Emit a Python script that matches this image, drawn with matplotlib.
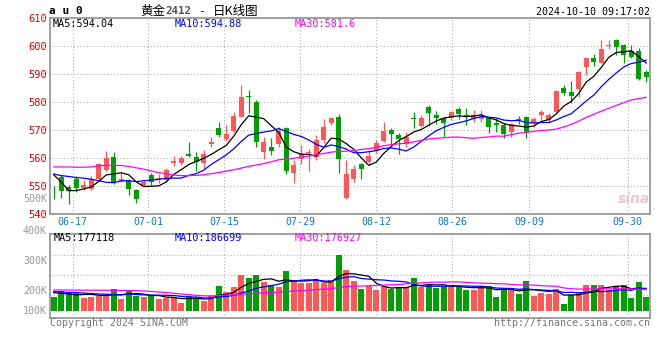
import matplotlib
matplotlib.use("Agg")
import matplotlib.pyplot as plt
import pandas as pd

plt.rcParams["font.family"] = ["DejaVu Sans Mono"]

# ---------------- data (au0 daily, 80 sessions, last = 10-10) ----------------
opens = [548.6, 553.1, 549.8, 552.4, 549.4, 548.8, 552.4, 555.8, 560.4, 551.8,
         552.2, 548.6, 550.4, 553.8, 552.6, 552.2, 558.2, 558.3, 561.3, 560.4,
         558.1, 564.9, 570.6, 566.7, 569.8, 574.8, 582.1, 579.9, 562.3, 564.0,
         565.0, 570.8, 554.8, 559.5, 561.9, 560.5, 566.4, 572.4, 574.8, 545.8,
         552.4, 557.9, 558.7, 562.6, 566.2, 570.0, 568.2, 565.0, 574.4, 571.5,
         578.3, 575.4, 574.2, 574.2, 577.5, 575.5, 573.8, 573.8, 574.4, 572.4,
         571.8, 569.2, 573.9, 574.5, 572.4, 575.4, 573.6, 576.5, 585.1, 583.7,
         584.5, 592.6, 595.6, 594.0, 600.0, 602.1, 600.4, 598.3, 598.3, 590.8]
closes = [548.4, 548.3, 548.3, 549.2, 550.4, 552.4, 557.8, 560.0, 551.0, 552.4,
          548.8, 545.3, 551.6, 551.5, 553.0, 555.8, 558.8, 560.1, 560.7, 558.5,
          561.4, 565.8, 568.2, 568.6, 575.0, 581.9, 581.7, 565.8, 565.8, 562.6,
          569.8, 555.5, 557.5, 561.4, 562.3, 566.4, 571.2, 574.2, 559.6, 554.3,
          556.1, 556.1, 560.7, 565.5, 569.8, 568.5, 566.8, 567.6, 573.8, 574.2,
          576.2, 574.4, 572.6, 576.3, 575.7, 575.0, 575.4, 574.8, 571.0, 571.8,
          568.5, 572.1, 573.6, 569.2, 573.8, 576.5, 575.4, 583.9, 583.1, 582.1,
          590.8, 595.6, 594.2, 598.9, 600.2, 599.5, 596.8, 596.2, 588.1, 589.0]
highs = [550.0, 554.0, 550.4, 553.6, 552.2, 553.4, 558.2, 562.4, 562.0, 554.6,
         552.6, 548.8, 552.2, 554.8, 554.2, 556.4, 560.6, 560.6, 565.7, 562.3,
         562.9, 567.4, 573.0, 571.8, 576.5, 586.1, 584.3, 580.7, 567.4, 567.0,
         571.2, 571.2, 559.3, 564.6, 563.1, 568.2, 573.8, 574.8, 575.7, 559.3,
         557.5, 558.3, 562.6, 566.4, 573.0, 570.8, 569.0, 569.4, 576.5, 575.4,
         578.9, 576.9, 574.8, 576.9, 578.3, 577.7, 577.1, 577.1, 574.8, 574.2,
         572.4, 572.4, 575.0, 575.0, 574.5, 577.1, 576.0, 584.3, 586.1, 587.6,
         591.2, 596.2, 597.1, 602.1, 602.1, 602.4, 600.6, 600.4, 599.2, 591.4]
lows = [545.5, 545.8, 543.5, 548.0, 548.6, 548.6, 552.2, 555.5, 550.7, 551.6,
        546.7, 544.0, 550.0, 550.2, 551.2, 551.8, 557.2, 557.4, 560.2, 555.5,
        556.3, 564.0, 567.4, 566.2, 569.4, 574.5, 576.0, 564.0, 559.6, 561.1,
        564.0, 554.3, 551.2, 557.9, 555.5, 559.3, 565.5, 571.8, 554.8, 545.2,
        551.5, 552.4, 557.9, 561.7, 565.8, 565.0, 561.4, 564.0, 570.6, 571.2,
        571.4, 572.1, 567.6, 573.6, 573.8, 571.8, 573.0, 573.0, 569.0, 569.4,
        567.0, 567.6, 572.0, 567.0, 571.2, 573.6, 572.4, 576.2, 582.5, 579.5,
        581.9, 589.6, 592.9, 593.8, 598.8, 596.8, 593.8, 595.6, 587.9, 587.3]
# volume in thousands of lots
volumes = [149.0, 171.6, 165.6, 163.3, 147.6, 151.2, 153.7, 160.9, 178.8, 143.0,
           175.2, 153.7, 151.2, 153.7, 143.0, 147.6, 147.6, 129.7, 153.7, 147.6,
           136.9, 153.7, 189.5, 169.1, 184.8, 228.9, 219.2, 228.9, 204.9, 193.1,
           187.0, 244.3, 211.0, 199.1, 199.1, 211.0, 199.1, 211.0, 300.5, 246.8,
           207.4, 178.8, 189.5, 175.2, 189.5, 177.7, 187.0, 187.0, 218.1, 187.0,
           193.1, 181.3, 189.5, 193.1, 184.8, 175.2, 175.2, 189.5, 189.5, 151.2,
           183.6, 175.2, 160.9, 207.4, 154.9, 165.6, 160.9, 178.8, 125.1, 157.3,
           169.1, 193.1, 193.1, 193.1, 175.2, 189.5, 193.1, 147.6, 204.9, 151.2]

# moving averages before enough history is on screen
ma5_head = [554.0, 551.4, 548.3, 548.4]
ma10_head = [554.3, 553.7, 553.4, 553.0, 552.8, 552.4, 551.9, 551.3, 551.2]
ma30_head = [556.8, 556.8, 556.8, 556.7, 556.7, 556.8, 557.2, 557.4, 557.4, 557.3,
             557.0, 556.5, 556.0, 555.4, 554.8, 554.3, 553.9, 553.7, 553.7, 553.8,
             554.0, 554.4, 554.8, 555.3, 555.8, 556.4, 557.0, 557.5, 558.0]
vma5_head = [165.6, 163.3, 160.9, 157.3]
vma10_head = [169.2, 168.0, 166.8, 165.6, 164.0, 162.5, 161.0, 160.0, 159.0]
vma30_head = [175.2, 175.2, 175.0, 174.8, 174.6, 174.4, 174.2, 174.0, 173.8, 173.6,
              173.2, 172.6, 171.6, 170.0, 168.0, 166.0, 163.5, 161.0, 158.5, 156.0,
              154.2, 154.0, 155.0, 156.5, 158.0, 159.8, 161.7, 163.6, 165.2]

tick_labels = ["06-17", "07-01", "07-15", "07-29", "08-12", "08-26", "09-09", "09-30"]
tick_pos = [2.53, 12.61, 22.74, 32.83, 42.97, 53.14, 63.37, 76.53]
price_ticks = [540, 550, 560, 570, 580, 590, 600, 610]

RED = "#ff5656"
GREEN = "#00a000"


def moving(values, n, head):
    s = pd.Series(values).rolling(n).mean()
    s.iloc[:n - 1] = head
    return s


# ---------------- figure ----------------
W, H = 660, 360
fig = plt.figure(figsize=(6.6, 3.6), dpi=100)


def fx(x):
    return x / W


def fy(y):
    return 1 - y / H


ax = fig.add_axes([fx(50), fy(214), 600 / W, 196 / H])
axv = fig.add_axes([fx(50), fy(318), 600 / W, 84 / H])

x = list(range(len(closes)))

# candles
for i in x:
    o, c, h, l = opens[i], closes[i], highs[i], lows[i]
    col = RED if c >= o else GREEN
    ax.vlines(i, l, h, color=col, lw=0.9, zorder=3)
    ax.bar(i, max(abs(c - o), 0.3), bottom=min(o, c), width=0.68,
           color=col, lw=0, zorder=4)

ax.plot(x, moving(closes, 5, ma5_head), color="black", lw=0.9, zorder=5)
ax.plot(x, moving(closes, 10, ma10_head), color="#0000ff", lw=0.9, zorder=5)
ax.plot(x, moving(closes, 30, ma30_head), color="#ff00ff", lw=0.9, zorder=5)

# volume
vcols = [RED if closes[i] >= opens[i] else GREEN for i in x]
axv.bar(x, [v - 100 for v in volumes], bottom=100, width=0.76, color=vcols, lw=0, zorder=3)
axv.plot(x, moving(volumes, 5, vma5_head), color="black", lw=0.9, zorder=5)
axv.plot(x, moving(volumes, 10, vma10_head), color="#0000ff", lw=0.9, zorder=5)
axv.plot(x, moving(volumes, 30, vma30_head), color="#ff00ff", lw=0.9, zorder=5)

# axes styling
for a in (ax, axv):
    a.set_xlim(-0.5, 79.5)
    a.set_xticks(tick_pos)
    a.grid(True, color="#b0b0b0", linestyle=(0, (1, 2)), lw=0.8)
    a.set_axisbelow(True)
    for sp in a.spines.values():
        sp.set_color("#9a9a9a")
        sp.set_linewidth(1.3)
    a.tick_params(length=0)

ax.set_ylim(540, 610)
ax.set_yticks(price_ticks)
ax.set_yticklabels([str(t) for t in price_ticks], color="#e80000", fontsize=7.5)
ax.tick_params(axis="y", pad=2)
ax.set_xticklabels(tick_labels, color="#1177cc", fontsize=7.2)
ax.tick_params(axis="x", pad=2.5)

axv.set_ylim(74.9, 375.7)
axv.set_yticks([157.3, 228.9, 300.5])
axv.set_yticklabels([])
axv.set_xticklabels([])

# texts
fig.text(fx(49), fy(11), "a u 0", fontsize=8, weight="bold", va="center")
cjk = ["Noto Sans CJK SC", "DejaVu Sans"]
fig.text(fx(140), fy(11), "黄金", family=cjk, fontsize=9, va="center")
fig.text(fx(165), fy(11.5), "2412", color="#555555", fontsize=7.8,
         weight="bold", va="center")
fig.text(fx(201), fy(11), "-", fontsize=8, ha="center", va="center")
fig.text(fx(213), fy(11), "日K线图", family=cjk, fontsize=9, va="center")
fig.text(fx(650), fy(12), "2024-10-10 09:17:02", ha="right", fontsize=7.2, va="center")

fig.text(fx(53), fy(23.7), "MA5:594.04", color="black", fontsize=7.3, va="center")
fig.text(fx(175), fy(23.7), "MA10:594.88", color="#0000ff", fontsize=7.3, va="center")
fig.text(fx(295), fy(23.7), "MA30:581.6", color="#ff00ff", fontsize=7.3, va="center")
fig.text(fx(54), fy(238.3), "MA5:177118", color="black", fontsize=7.3, va="center")
fig.text(fx(175), fy(238.3), "MA10:186699", color="#0000ff", fontsize=7.3, va="center")
fig.text(fx(295), fy(238.3), "MA30:176927", color="#ff00ff", fontsize=7.3, va="center")

for lab, yy in [("500K", 199), ("400K", 230.7), ("300K", 260.7),
                ("200K", 290.7), ("100K", 310.7)]:
    fig.text(fx(47), fy(yy), lab, color="#9a9a9a", fontsize=7.2, ha="right", va="center")

fig.text(fx(50), fy(323), "Copyright 2024 SINA.COM", color="#777777", fontsize=7.1, va="center")
fig.text(fx(650), fy(323), "http://finance.sina.com.cn", color="#777777",
         fontsize=7.1, ha="right", va="center")
fig.text(fx(634), fy(199), "sina", family="DejaVu Sans", style="italic",
         weight="bold", color="#f2c4c4", fontsize=10, ha="center", va="center")

fig.savefig("out.png", dpi=100)
